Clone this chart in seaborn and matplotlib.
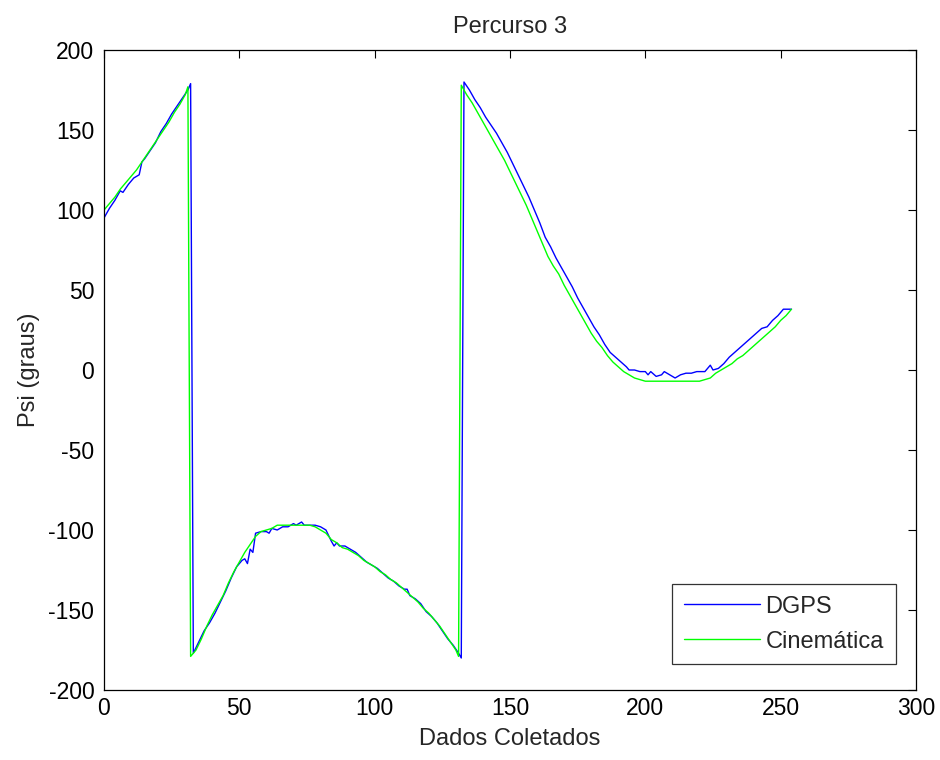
import matplotlib
matplotlib.use("Agg")
import matplotlib.pyplot as plt
import seaborn as sns
import pandas as pd

# DGPS series (index, heading in degrees)
dgps_x = [0, 2, 4, 6, 7, 9, 11, 13, 14, 15, 17, 19, 21, 23, 25, 27, 29, 31, 32,
          33, 35, 37, 39, 41, 43, 45, 47, 49, 51, 52, 53, 54, 55, 56, 58, 60, 61, 62, 64, 66, 68, 70, 71, 73, 74,
          76, 78, 80, 82, 84, 85, 86, 87, 89, 91, 93, 95, 97, 99, 101, 103, 105, 107, 109, 111, 112, 113,
          115, 117, 119, 121, 123, 125, 127, 129, 131, 132,
          133, 135, 137, 139, 141, 143, 145, 147, 149, 151, 153, 155, 157, 159, 161, 163, 165, 167, 169,
          171, 173, 175, 177, 179, 181, 183, 185, 187, 189, 191, 193, 194, 196, 198, 200, 201, 202, 204,
          206, 207, 209, 211, 213, 215, 217, 219, 222, 224, 225, 227, 229, 231, 233, 235, 237, 239, 241,
          243, 245, 247, 249, 251, 252, 254]
dgps_y = [95, 101, 106, 112, 111, 116, 120, 122, 130, 132, 137, 142, 149, 154, 160, 165, 170, 175, 179,
          -177, -170, -163, -158, -152, -145, -138, -130, -123, -119, -118, -121, -112, -114, -102, -101, -101,
          -102, -99, -100, -98, -98, -96, -97, -95, -97,
          -97, -97, -98, -100, -107, -110, -108, -110, -110, -112, -114, -117, -120, -122, -124, -127, -130,
          -132, -135, -137, -137, -141,
          -143, -146, -151, -154, -158, -163, -168, -172, -177, -180,
          180, 175, 169, 164, 158, 153, 148, 142, 136, 129, 122, 115, 108, 100, 92, 83, 77, 70, 64,
          58, 52, 45, 39, 33, 27, 22, 16, 11, 8, 5, 2, 0, 0, -1, -1, -3, -1, -4,
          -3, -1, -3, -5, -3, -2, -2, -1, -1, 3, 0, 1, 4, 8, 11, 14, 17, 20, 23,
          26, 27, 31, 34, 38, 38, 38]

# Kinematic series
cin_x = [0, 2, 4, 6, 8, 10, 12, 14, 16, 18, 20, 22, 24, 26, 28, 30, 31,
         32, 34, 36, 38, 40, 42, 44, 46, 48, 50, 52, 54, 56, 58, 60, 62, 64, 66, 70, 74, 76, 78, 80,
         82, 84, 86, 88, 90, 92, 94, 96, 98, 100, 102, 104, 106, 108, 110, 112, 114, 116, 118, 120,
         122, 124, 126, 128, 130, 131,
         132, 134, 136, 138, 140, 142, 144, 146, 148, 150, 152, 154, 156, 158, 160, 162, 164, 166, 168,
         170, 172, 174, 176, 178, 180, 182, 184, 186, 188, 190, 192, 194, 196, 198, 200, 210, 220, 222,
         224, 226, 228, 230, 232, 234, 236, 238, 240, 242, 244, 246, 248, 250, 252, 254]
cin_y = [100, 104, 108, 113, 117, 121, 125, 130, 135, 140, 145, 150, 155, 161, 166, 172, 177,
         -179, -175, -168, -160, -153, -147, -141, -133, -126, -120, -114, -109, -104, -101, -100, -99,
         -97, -97, -97, -97, -97, -98, -100,
         -102, -106, -108, -111, -112, -114, -116, -119, -121, -123, -126, -128, -131, -133, -136, -139,
         -142, -145, -149, -152,
         -156, -160, -165, -170, -175, -179,
         178, 172, 167, 161, 155, 149, 143, 137, 131, 124, 117, 110, 103, 95, 87, 79, 71, 65, 60,
         53, 47, 41, 35, 29, 23, 18, 14, 9, 5, 2, -1, -3, -5, -6, -7, -7, -7, -6,
         -5, -2, 0, 2, 4, 7, 9, 12, 15, 18, 21, 24, 27, 31, 34, 38]

series_names = ["DGPS", "Cinemática"]

df = pd.concat([
    pd.DataFrame({"x": dgps_x, "y": dgps_y, "serie": series_names[0]}),
    pd.DataFrame({"x": cin_x, "y": cin_y, "serie": series_names[1]}),
], ignore_index=True)

sns.set_style("white")
plt.rcParams["font.family"] = ["Liberation Sans", "DejaVu Sans"]
plt.rcParams["axes.unicode_minus"] = False

fig = plt.figure(figsize=(9.4, 7.6), dpi=100)
ax = fig.add_axes([104 / 940, 70 / 760, 812 / 940, 640 / 760])

sns.lineplot(data=df, x="x", y="y", hue="serie", palette={"DGPS": "#0000ff", "Cinemática": "#00ff00"},
             estimator=None, sort=False, linewidth=1.0, ax=ax)

ax.set_xlim(0, 300)
ax.set_ylim(-200, 200)
ax.set_xticks([0, 50, 100, 150, 200, 250, 300])
ax.set_yticks([-200, -150, -100, -50, 0, 50, 100, 150, 200])
ax.tick_params(direction="in", length=6, width=0.8, top=True, right=True, labelsize=16.5,
               colors="black")
ax.tick_params(axis="y", pad=7)
ax.tick_params(axis="x", pad=5)
for s in ax.spines.values():
    s.set_visible(True)
    s.set_color("black")
    s.set_linewidth(0.9)

ax.set_title("Percurso 3", fontsize=17, pad=12)
ax.set_xlabel("Dados Coletados", fontsize=17, labelpad=6)
ax.set_ylabel("Psi (graus)", fontsize=17, labelpad=6)

leg = ax.legend(loc="lower right", bbox_to_anchor=(0.975, 0.04), fontsize=17, frameon=True,
                fancybox=False, edgecolor="black", handlelength=3.2, borderpad=0.5,
                labelspacing=0.55, handletextpad=0.25, borderaxespad=0)
leg.get_frame().set_linewidth(0.9)

fig.savefig("out.png", dpi=100, facecolor="white")
